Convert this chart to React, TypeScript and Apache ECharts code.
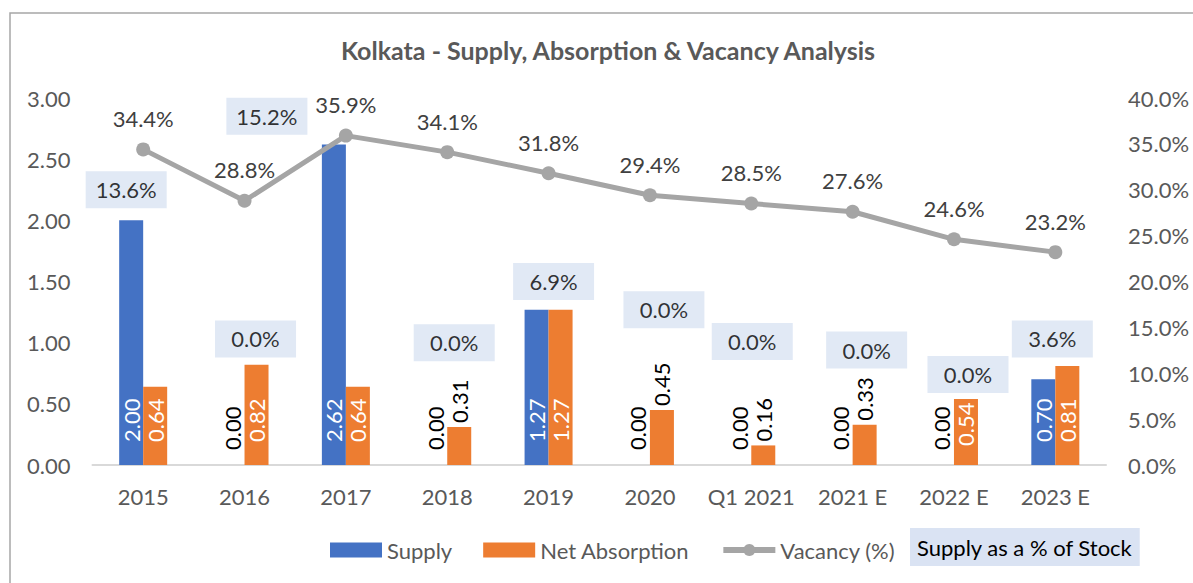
import React, { useEffect, useRef } from 'react';
import * as echarts from 'echarts';

const categories = ['2015', '2016', '2017', '2018', '2019', '2020', 'Q1 2021', '2021 E', '2022 E', '2023 E'];
const supply = [2.0, 0, 2.62, 0, 1.27, 0, 0, 0, 0, 0.7];
const netAbsorption = [0.64, 0.82, 0.64, 0.31, 1.27, 0.45, 0.16, 0.33, 0.54, 0.81];
const vacancy = [34.4, 28.8, 35.9, 34.1, 31.8, 29.4, 28.5, 27.6, 24.6, 23.2];
const supplyPctOfStock = [13.6, 0, 15.2, 0, 6.9, 0, 0, 0, 0, 3.6];

// where the hand-placed "Supply as a % of Stock" boxes sit (left-axis level, horizontal shift)
const stockLabelLevel = [2.25, 1.03, 2.85, 1.0, 1.5, 1.27, 1.01, 0.94, 0.74, 1.03];
const stockLabelShift = [-17, 11, -79, 7, 5, 14, 1, 14, 14, -3];

const FONT = 'Lato';
const AXIS_GRAY = '#595959';
const FS = 22;

export default function App() {
  const ref = useRef<HTMLDivElement>(null);

  useEffect(() => {
    if (!ref.current) return;
    const chart = echarts.init(ref.current, null, { renderer: 'svg' });

    const barLabelBase = {
      show: true,
      position: 'insideBottom',
      rotate: 90,
      align: 'left',
      verticalAlign: 'middle',
      distance: 23,
      color: '#ffffff',
      fontSize: FS,
      fontFamily: FONT,
      formatter: (p: any) => Number(p.value).toFixed(2),
    };

    const supplyData = supply.map((v) =>
      v === 0
        ? { value: v, label: { color: '#000000', distance: 15 } }
        : { value: v }
    );
    const absorptionData = netAbsorption.map((v) =>
      v < 0.5
        ? { value: v, label: { position: 'top', color: '#000000', distance: 4 } }
        : { value: v, label: { distance: v < 0.6 ? 19 : 23 } }
    );

    const stockData = categories.map((c, i) => ({
      value: [c, stockLabelLevel[i]],
      label: { offset: [stockLabelShift[i], 0] },
    }));

    const option: any = {
      animation: false,
      textStyle: { fontFamily: FONT },
      title: {
        text: 'Kolkata - Supply, Absorption & Vacancy Analysis',
        left: 603,
        top: 32,
        textAlign: 'center',
        textStyle: { fontFamily: FONT, fontSize: 25, fontWeight: 'bold', color: AXIS_GRAY },
      },
      graphic: [
        {
          type: 'rect',
          shape: { x: 10, y: 13, width: 1250, height: 700 },
          style: { fill: 'none', stroke: '#A6A6A6', lineWidth: 1.5 },
          silent: true,
          z: -10,
        },
      ],
      legend: [
        {
          left: 325,
          top: 534,
          itemWidth: 52,
          itemHeight: 15,
          itemGap: 31,
          textStyle: { fontFamily: FONT, fontSize: FS, color: AXIS_GRAY },
          data: [
            { name: 'Supply', icon: 'rect' },
            { name: 'Net Absorption', icon: 'rect' },
            {
              name: 'Vacancy (%)',
              lineStyle: { width: 6, color: '#A5A5A5' },
              itemStyle: { color: '#A5A5A5' },
            },
          ],
        },
        {
          left: 900,
          top: 523,
          itemWidth: 0,
          itemHeight: 0,
          textStyle: {
            fontFamily: FONT,
            fontSize: FS,
            color: '#000000',
            backgroundColor: '#DAE3F3',
            padding: [8, 7],
          },
          data: [{ name: 'Supply as a % of Stock', icon: 'rect' }],
        },
      ],
      grid: { left: 92.5, right: 87, top: 98, bottom: 118, containLabel: false },
      xAxis: {
        type: 'category',
        data: categories,
        axisLine: { lineStyle: { color: '#D9D9D9', width: 2 } },
        axisTick: { show: false },
        axisLabel: { color: AXIS_GRAY, fontSize: FS, fontFamily: FONT, margin: 20, interval: 0 },
      },
      yAxis: [
        {
          type: 'value',
          min: 0,
          max: 3,
          interval: 0.5,
          splitLine: { show: false },
          axisLine: { show: false },
          axisTick: { show: false },
          axisLabel: {
            color: AXIS_GRAY,
            fontSize: FS,
            fontFamily: FONT,
            margin: 22,
            formatter: (v: number) => v.toFixed(2),
          },
        },
        {
          type: 'value',
          min: 0,
          max: 40,
          interval: 5,
          splitLine: { show: false },
          axisLine: { show: false },
          axisTick: { show: false },
          axisLabel: {
            color: AXIS_GRAY,
            fontSize: FS,
            fontFamily: FONT,
            margin: 22,
            formatter: (v: number) => v.toFixed(1) + '%',
          },
        },
      ],
      series: [
        {
          name: 'Supply',
          type: 'bar',
          data: supplyData,
          barWidth: 24,
          barGap: '0%',
          itemStyle: { color: '#4472C4' },
          label: barLabelBase,
          z: 2,
        },
        {
          name: 'Net Absorption',
          type: 'bar',
          data: absorptionData,
          barWidth: 24,
          barGap: '0%',
          itemStyle: { color: '#ED7D31' },
          label: barLabelBase,
          z: 2,
        },
        {
          name: 'Vacancy (%)',
          type: 'line',
          yAxisIndex: 1,
          data: vacancy,
          symbol: 'circle',
          symbolSize: 14,
          lineStyle: { color: '#A5A5A5', width: 5 },
          itemStyle: { color: '#A5A5A5' },
          label: {
            show: true,
            position: 'top',
            distance: 13,
            color: '#404040',
            fontSize: FS,
            fontFamily: FONT,
            formatter: (p: any) => Number(p.value).toFixed(1) + '%',
          },
          z: 5,
        },
        {
          name: 'Supply as a % of Stock',
          type: 'scatter',
          yAxisIndex: 0,
          data: stockData,
          symbolSize: 1,
          itemStyle: { color: 'rgba(0,0,0,0)' },
          label: {
            show: true,
            position: 'inside',
            width: 81,
            height: 37,
            lineHeight: 37,
            align: 'center',
            verticalAlign: 'middle',
            backgroundColor: '#DAE3F3',
            color: '#000000',
            fontSize: FS,
            fontFamily: FONT,
            formatter: (p: any) => supplyPctOfStock[p.dataIndex].toFixed(1) + '%',
          },
          z: 6,
        },
      ],
    };

    chart.setOption(option);
    return () => chart.dispose();
  }, []);

  return (
    <div
      ref={ref}
      style={{ position: 'fixed', left: 0, top: 0, width: 1193, height: 583, background: '#ffffff' }}
    />
  );
}
